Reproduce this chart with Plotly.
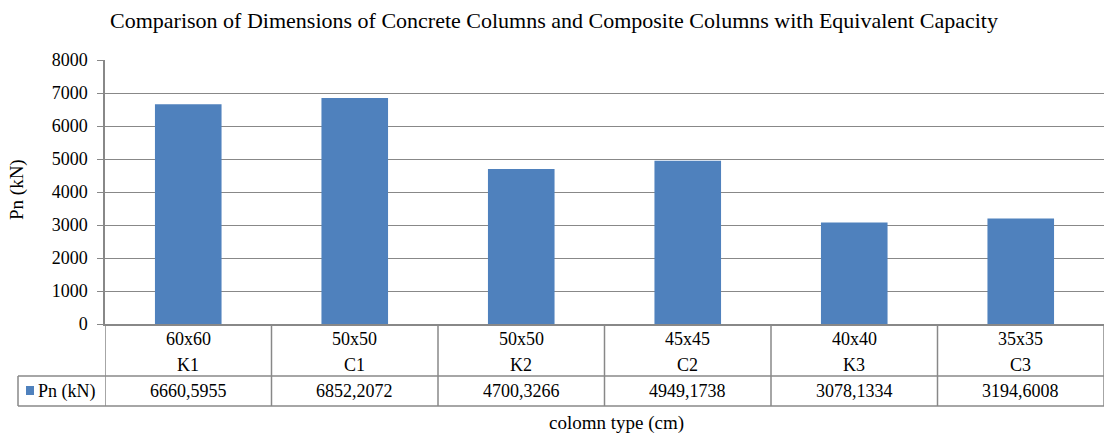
import plotly.graph_objects as go

categories = ["K1", "C1", "K2", "C2", "K3", "C3"]
dimensions = ["60x60", "50x50", "50x50", "45x45", "40x40", "35x35"]
pn_values = [6660.5955, 6852.2072, 4700.3266, 4949.1738, 3078.1334, 3194.6008]
pn_labels = ["6660,5955", "6852,2072", "4700,3266", "4949,1738", "3078,1334", "3194,6008"]
series_name = "Pn (kN)"
title_text = "Comparison of Dimensions of Concrete Columns and Composite Columns with Equivalent Capacity"
x_title = "colomn type (cm)"
y_title = "Pn (kN)"

BAR = "#4F81BD"
GRID = "#888888"
FONT = "Liberation Serif"

W, H = 1105, 436
L, R, T, B = 105, 1, 60, 112
ph = H - T - B
pw = W - L - R

def py(pix):
    return (H - B - pix) / ph

def px(pix):
    return (pix - L) / pw

fig = go.Figure()
fig.add_trace(go.Bar(x=list(range(len(categories))), y=pn_values, marker_color=BAR,
                     marker_line_width=0, width=0.4, name=series_name, showlegend=False))

n = len(categories)
shapes = []
row1 = py(H - B + 52)
row2 = py(H - B + 82)
line_style = dict(color=GRID, width=1.5)
shapes.append(dict(type="line", xref="paper", yref="paper", x0=px(18), x1=1, y0=row1, y1=row1, line=line_style))
shapes.append(dict(type="line", xref="paper", yref="paper", x0=px(18), x1=1, y0=row2, y1=row2, line=line_style))
shapes.append(dict(type="line", xref="paper", yref="paper", x0=px(18), x1=px(18), y0=row1, y1=row2, line=line_style))
for i in range(n + 1):
    xv = i - 0.5
    shapes.append(dict(type="line", xref="x", yref="paper", x0=xv, x1=xv, y0=0, y1=row2, line=line_style))
shapes.append(dict(type="rect", xref="paper", yref="paper", x0=px(26), x1=px(34),
                   y0=py(395), y1=py(386), fillcolor=BAR, line=dict(width=0)))

txt = dict(family=FONT, size=18, color="black")
annotations = []
for i in range(n):
    annotations.append(dict(x=i, y=py(339), xref="x", yref="paper", text=dimensions[i],
                            xanchor="center", yanchor="middle", showarrow=False, font=txt))
    annotations.append(dict(x=i, y=py(365), xref="x", yref="paper", text=categories[i],
                            xanchor="center", yanchor="middle", showarrow=False, font=txt))
    annotations.append(dict(x=i, y=py(391), xref="x", yref="paper", text=pn_labels[i],
                            xanchor="center", yanchor="middle", showarrow=False, font=txt))
annotations.append(dict(x=px(36), y=py(391), xref="paper", yref="paper", text=series_name,
                        xanchor="left", yanchor="middle", showarrow=False, font=txt))
annotations.append(dict(x=px(616), y=py(423), xref="paper", yref="paper", text=x_title,
                        xanchor="center", yanchor="middle", showarrow=False,
                        font=dict(family=FONT, size=19, color="black")))
annotations.append(dict(x=px(17), y=py(190), xref="paper", yref="paper", text=y_title, textangle=-90,
                        xanchor="center", yanchor="middle", showarrow=False,
                        font=dict(family=FONT, size=19, color="black")))

fig.update_layout(
    width=W, height=H,
    margin=dict(l=L, r=R, t=T, b=B, autoexpand=False),
    paper_bgcolor="white", plot_bgcolor="white",
    title=dict(text=title_text, x=px(554), xref="paper", xanchor="center", y=1 - 20 / H, yanchor="middle",
               font=dict(family=FONT, size=22, color="black")),
    shapes=shapes,
    annotations=annotations,
    showlegend=False,
)
fig.update_xaxes(range=[-0.5, n - 0.5], showticklabels=False, showgrid=False, zeroline=False,
                 showline=True, linecolor=GRID, linewidth=1.5, ticks="")
fig.update_yaxes(range=[0, 8000], dtick=1000, showgrid=True, gridcolor=GRID, gridwidth=1,
                 zeroline=False, showline=True, linecolor=GRID, linewidth=1.5,
                 ticks="outside", ticklen=6, tickcolor=GRID, ticklabelstandoff=6,
                 tickfont=dict(family=FONT, size=18, color="black"))

fig.write_html("out.html")
